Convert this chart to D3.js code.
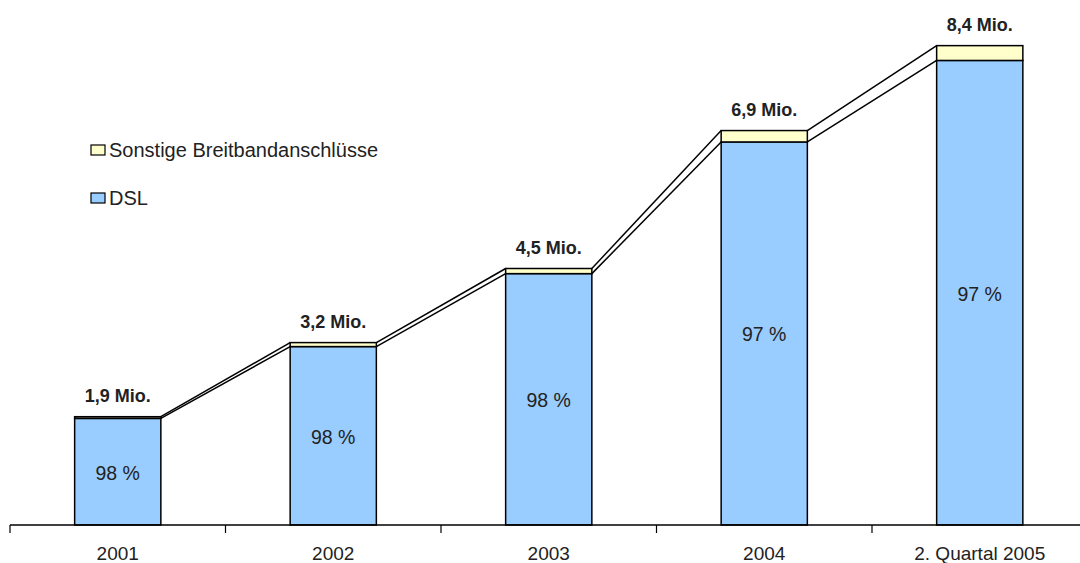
<!DOCTYPE html>
<html><head><meta charset="utf-8">
<script src="https://cdn.jsdelivr.net/npm/d3@7"></script>
<style>body{margin:0;background:#fff}svg{display:block;font-family:"Liberation Sans",Arial,sans-serif}</style>
</head><body><svg id="c" width="1080" height="563"></svg>
<script>
const categories = ["2001","2002","2003","2004","2. Quartal 2005"];
const dsl   = [1.87, 3.13, 4.41, 6.72, 8.15];
const other = [0.03, 0.07, 0.09, 0.20, 0.26];
const totalLabels = ["1,9 Mio.","3,2 Mio.","4,5 Mio.","6,9 Mio.","8,4 Mio."];
const shareLabels = ["98 %","98 %","98 %","97 %","97 %"];
const seriesNames = ["Sonstige Breitbandanschlüsse","DSL"];
const colors = {dsl:"#99ccff", other:"#ffffcc"};

const svg = d3.select("#c");
const x0 = 10, catW = 215.5, baseY = 525;
const x = d3.scaleBand().domain(categories).range([x0, x0 + catW*categories.length]).paddingInner(0).paddingOuter(0);
const y = d3.scaleLinear().domain([0, 9]).range([baseY, baseY - 9*57.0]);
const bw = x.bandwidth()*0.4;
const bx = c => x(c) + (x.bandwidth()-bw)/2;
const sw = 1.5;

// series lines
const g = svg.append("g");
for (let i=0;i<categories.length-1;i++){
  const a = categories[i], b = categories[i+1];
  [[dsl[i], dsl[i+1]], [dsl[i]+other[i], dsl[i+1]+other[i+1]]].forEach(([v1,v2])=>{
    g.append("line").attr("x1", bx(a)+bw).attr("y1", y(v1)).attr("x2", bx(b)).attr("y2", y(v2))
     .attr("stroke","#000").attr("stroke-width",sw);
  });
}

// bars
categories.forEach((c,i)=>{
  svg.append("rect").attr("x",bx(c)).attr("y",y(dsl[i])).attr("width",bw).attr("height",y(0)-y(dsl[i]))
    .attr("fill",colors.dsl).attr("stroke","#000").attr("stroke-width",sw);
  svg.append("rect").attr("x",bx(c)).attr("y",y(dsl[i]+other[i])).attr("width",bw).attr("height",y(dsl[i])-y(dsl[i]+other[i]))
    .attr("fill",colors.other).attr("stroke","#000").attr("stroke-width",sw);
  svg.append("text").attr("x",bx(c)+bw/2).attr("y",(y(dsl[i])+y(0))/2+8).attr("text-anchor","middle")
    .attr("font-size",19.5).attr("fill","#222").text(shareLabels[i]);
  svg.append("text").attr("x",bx(c)+bw/2).attr("y",y(dsl[i]+other[i])-15).attr("text-anchor","middle")
    .attr("font-size",18).attr("font-weight","bold").attr("fill","#222").text(totalLabels[i]);
});

// axis
const ax = svg.append("g").attr("transform",`translate(0,${baseY})`);
ax.append("line").attr("x1",x0).attr("x2",1080).attr("y1",0).attr("y2",0).attr("stroke","#000").attr("stroke-width",sw);
categories.forEach(c=>{
  ax.append("line").attr("x1",x(c)).attr("x2",x(c)).attr("y1",0).attr("y2",8).attr("stroke","#000").attr("stroke-width",1.2);
  ax.append("text").attr("x",x(c)+x.bandwidth()/2).attr("y",35).attr("text-anchor","middle")
    .attr("font-size",19).attr("fill","#222").text(c);
});

// legend
const leg = [{n:seriesNames[0],c:colors.other,y:150},{n:seriesNames[1],c:colors.dsl,y:198}];
leg.forEach(l=>{
  svg.append("rect").attr("x",91).attr("y",l.y-5).attr("width",14).attr("height",10)
    .attr("fill",l.c).attr("stroke","#000").attr("stroke-width",1.2);
  svg.append("text").attr("x",109).attr("y",l.y+7).attr("font-size",20).attr("fill","#222").text(l.n);
});
</script></body></html>
